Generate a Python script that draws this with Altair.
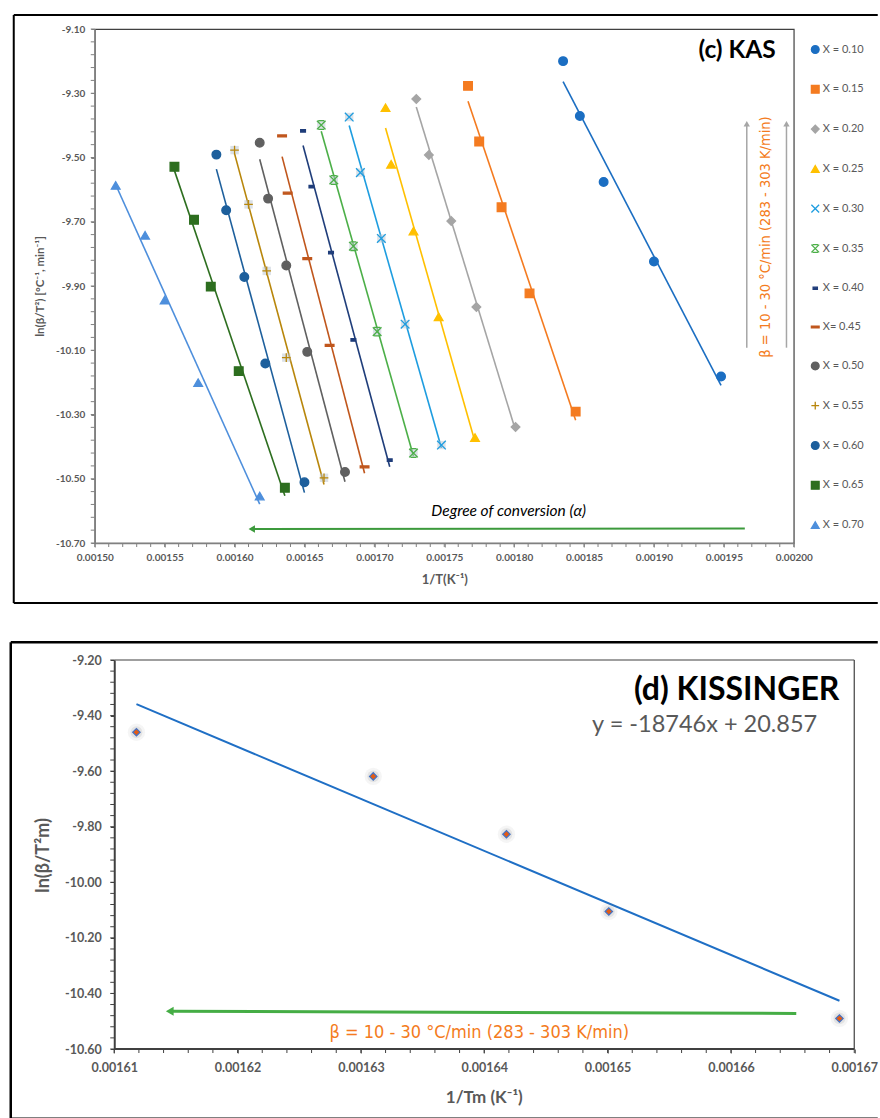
import altair as alt
import pandas as pd

# ---------------- (c) KAS data ----------------
series = ["X = 0.10", "X = 0.15", "X = 0.20", "X = 0.25", "X = 0.30", "X = 0.35",
          "X = 0.40", "X= 0.45", "X = 0.50", "X = 0.55", "X = 0.60", "X = 0.65", "X = 0.70"]
colors = ["#1b6ec2", "#f47b20", "#a5a5a5", "#ffc000", "#1e9de0", "#4caf48",
          "#1f3d7a", "#c0561c", "#606060", "#b8860b", "#1d5f9c", "#2d6e1f", "#4e8fdc"]
shapes = ["circle", "square", "diamond", "triangle-up",
          "M-1,-1L1,1M-1,1L1,-1",
          "M-1,-1L1,1M-1,1L1,-1M-0.7,-1H0.7M-0.7,1H0.7",
          "M-0.55,-0.28H0.55V0.28H-0.55Z",
          "M-1,-0.22H1V0.22H-1Z",
          "circle",
          "M-1,0H1M0,-1V1",
          "circle", "square", "triangle-up"]

x_010 = [0.001835, 0.001847, 0.001864, 0.001900, 0.001948]
y_010 = [-9.200, -9.371, -9.576, -9.824, -10.182]
x_015 = [0.001767, 0.001775, 0.001791, 0.001811, 0.001844]
y_015 = [-9.277, -9.450, -9.655, -9.923, -10.291]
x_020 = [0.001730, 0.001739, 0.001755, 0.001773, 0.001801]
y_020 = [-9.318, -9.492, -9.698, -9.965, -10.339]
x_025 = [0.001708, 0.001712, 0.001728, 0.001746, 0.001772]
y_025 = [-9.345, -9.521, -9.729, -9.996, -10.372]
x_030 = [0.001682, 0.001690, 0.001705, 0.001722, 0.001748]
y_030 = [-9.374, -9.547, -9.752, -10.019, -10.395]
x_035 = [0.001662, 0.001671, 0.001685, 0.001702, 0.001728]
y_035 = [-9.399, -9.570, -9.776, -10.042, -10.420]
x_040 = [0.001649, 0.001655, 0.001669, 0.001685, 0.001711]
y_040 = [-9.417, -9.591, -9.796, -10.068, -10.442]
x_045 = [0.001634, 0.001638, 0.001652, 0.001668, 0.001693]
y_045 = [-9.433, -9.611, -9.815, -10.085, -10.463]
x_050 = [0.001618, 0.001624, 0.001637, 0.001652, 0.001679]
y_050 = [-9.454, -9.628, -9.836, -10.105, -10.479]
x_055 = [0.001600, 0.001610, 0.001623, 0.001637, 0.001664]
y_055 = [-9.477, -9.646, -9.853, -10.123, -10.497]
x_060 = [0.001587, 0.001594, 0.001607, 0.001622, 0.001650]
y_060 = [-9.491, -9.664, -9.872, -10.141, -10.511]
x_065 = [0.001557, 0.001571, 0.001583, 0.001603, 0.001636]
y_065 = [-9.529, -9.694, -9.902, -10.165, -10.528]
x_070 = [0.001515, 0.001536, 0.001550, 0.001574, 0.001618]
y_070 = [-9.587, -9.742, -9.944, -10.201, -10.554]

c_xticks = [0.00150, 0.00155, 0.00160, 0.00165, 0.00170, 0.00175,
            0.00180, 0.00185, 0.00190, 0.00195, 0.00200]
c_yticks = [-9.10, -9.30, -9.50, -9.70, -9.90, -10.10, -10.30, -10.50, -10.70]

# ---------------- (d) Kissinger data ----------------
kis_x = [0.0016118, 0.0016310, 0.0016418, 0.0016501, 0.0016688]
kis_y = [-9.460, -9.619, -9.827, -10.105, -10.490]
d_xticks = [0.00161, 0.00162, 0.00163, 0.00164, 0.00165, 0.00166, 0.00167]
d_yticks = [-9.20, -9.40, -9.60, -9.80, -10.00, -10.20, -10.40, -10.60]

beta_text = "β = 10 - 30 °C/min (283 - 303 K/min)"
NARROW = "Liberation Sans Narrow, DejaVu Sans Condensed, Roboto, sans-serif"
GRAY = "#595959"

# minor tick positions (axis decoration only)
c_xminor = [round(0.0015 + i * 0.00001, 5) for i in range(51)]
c_yminor = [round(-9.10 - i * 0.04, 2) for i in range(41)]
d_xminor = [round(0.00161 + i * 0.000002, 6) for i in range(31)]
d_yminor = [round(-9.20 - i * 0.04, 2) for i in range(36)]

all_x = [x_010, x_015, x_020, x_025, x_030, x_035, x_040, x_045, x_050, x_055, x_060, x_065, x_070]
all_y = [y_010, y_015, y_020, y_025, y_030, y_035, y_040, y_045, y_050, y_055, y_060, y_065, y_070]
rows = []
for s, c, xs, ys in zip(series, colors, all_x, all_y):
    for a, b in zip(xs, ys):
        rows.append({"series": s, "col": c, "x": a, "y": b})
kas = pd.DataFrame(rows)
kis = pd.DataFrame({"x": kis_x, "y": kis_y})
dummy = pd.DataFrame({"a": [0]})

MINUS = "replace(format(datum.value, '.2f'), '\u2212', '-')"


def hrule(x1, x2, y, w, color="black"):
    return alt.Chart(dummy).mark_rule(color=color, strokeWidth=w).encode(
        x=alt.value(x1), x2=alt.value(x2), y=alt.value(y))


def vrule(x, y1, y2, w, color="black"):
    return alt.Chart(dummy).mark_rule(color=color, strokeWidth=w).encode(
        x=alt.value(x), y=alt.value(y1), y2=alt.value(y2))


# ================= chart (c) =================
CW, CH = 699, 514
c_xs = alt.Scale(domain=[0.0015, 0.0020], nice=False, zero=False)
c_ys = alt.Scale(domain=[-10.70, -9.10], nice=False, zero=False)
c_xaxis = alt.Axis(values=c_xticks, format=".5f", grid=False, labelFlush=False, labelOverlap=False,
                   labelFont="Lato", labelFontWeight="bold", labelFontSize=10, labelColor=GRAY,
                   labelPadding=5, tickSize=4, tickColor="#808080", domainColor="#808080",
                   domainWidth=1.5, title="1/T(K⁻¹)", titleFont="Lato", titleFontWeight="bold",
                   titleFontSize=13, titleColor=GRAY, titleY=36, titleBaseline="middle")
c_yaxis = alt.Axis(values=c_yticks, labelExpr=MINUS, grid=False, labelOverlap=False,
                   labelFont="Lato", labelFontWeight="bold", labelFontSize=10, labelColor=GRAY,
                   labelPadding=6, tickSize=4, tickColor="#808080", domainColor="#808080",
                   domainWidth=1.5, title="ln(β/T²) [°C⁻¹, min⁻¹]", titleFont="Lato",
                   titleFontWeight="bold", titleFontSize=11.5, titleColor=GRAY, titleAngle=270,
                   titleAlign="center", titleBaseline="middle", titleX=-54, titleY=257)


def cx():
    return alt.X("x:Q", scale=c_xs, axis=c_xaxis)


def cy():
    return alt.Y("y:Q", scale=c_ys, axis=c_yaxis)


c_frame = [hrule(-81, 783, -14, 2), hrule(-81, 783, 574, 2), vrule(-81, -14, 574, 2)]
c_minx = alt.Chart(pd.DataFrame({"x": c_xminor})).mark_rule(color="#808080").encode(
    x=cx(), y=alt.value(CH), y2=alt.value(CH + 4))
c_miny = alt.Chart(pd.DataFrame({"y": c_yminor})).mark_rule(color="#808080").encode(
    y=cy(), x=alt.value(-4), x2=alt.value(0))

c_lines = alt.Chart(kas).transform_regression("x", "y", groupby=["series", "col"]).mark_line(
    strokeWidth=1.6).encode(x=cx(), y=cy(), color=alt.Color("col:N", scale=None))

c_boxes = alt.Chart(kas).transform_filter(
    alt.FieldOneOfPredicate(field="series", oneOf=["X = 0.30", "X = 0.35", "X = 0.55"])
).mark_square(size=70, color="#b8c4d0", opacity=0.5).encode(x=cx(), y=cy())

leg = alt.Legend(title=None, orient="none", legendX=715, legendY=15, padding=0, rowPadding=26.8,
                 symbolSize=60, symbolStrokeWidth=1.3, labelFont="Lato", labelFontSize=11,
                 labelColor=GRAY, labelOffset=2)
c_pts = alt.Chart(kas).mark_point(size=75, strokeWidth=1.3, opacity=1).encode(
    x=cx(), y=cy(),
    fill=alt.Fill("series:N", scale=alt.Scale(domain=series, range=colors), legend=leg),
    stroke=alt.Stroke("series:N", scale=alt.Scale(domain=series, range=colors), legend=leg),
    shape=alt.Shape("series:N", scale=alt.Scale(domain=series, range=shapes), legend=leg))

g_arr = pd.DataFrame({"x": [0.0019664, 0.0019948], "y": [-9.400, -9.400],
                      "y2": [-10.092, -10.092], "yh": [-9.395, -9.395]})
c_garr = alt.Chart(g_arr).mark_rule(color="#a6a6a6", strokeWidth=1.5).encode(
    x=cx(), y=cy(), y2=alt.Y2("y2:Q"))
c_ghead = alt.Chart(g_arr).mark_point(shape="triangle-up", filled=True, color="#a6a6a6",
                                      size=40, opacity=1).encode(
    x=cx(), y=alt.Y("yh:Q", scale=c_ys, axis=c_yaxis))
c_beta = alt.Chart(pd.DataFrame({"x": [0.00198], "y": [-9.7475], "t": [beta_text]})).mark_text(
    angle=270, align="center", baseline="middle", font=NARROW, fontSize=14.5, color="#f47b20").encode(
    x=cx(), y=cy(), text="t:N")
gr_c = pd.DataFrame({"x": [0.001965], "y": [-10.655], "x2": [0.0016125], "y2": [-10.6565]})
c_grarr = alt.Chart(gr_c).mark_rule(color="#3c9a3c", strokeWidth=2).encode(
    x=cx(), y=cy(), x2=alt.X2("x2:Q"), y2=alt.Y2("y2:Q"))
c_grhead = alt.Chart(pd.DataFrame({"x": [0.0016123], "y": [-10.6563]})).mark_point(
    shape="triangle-left", filled=True, color="#3c9a3c", size=55, opacity=1).encode(x=cx(), y=cy())
c_deg = alt.Chart(pd.DataFrame({"x": [0.0017961], "y": [-10.6004],
                                "t": ["Degree of conversion (α)"]})).mark_text(
    align="center", baseline="middle", font="Lato", fontStyle="italic", fontSize=15.5,
    color="black").encode(x=cx(), y=cy(), text="t:N")
c_title = alt.Chart(pd.DataFrame({"x": [0.0019871], "y": [-9.1685], "t": ["(c) KAS"]})).mark_text(
    align="right", baseline="middle", font="Lato", fontWeight="bold", fontSize=24.5,
    color="black").encode(x=cx(), y=cy(), text="t:N")

chart_c = alt.layer(*c_frame, c_minx, c_miny, c_lines, c_boxes, c_pts, c_garr, c_ghead, c_beta,
                    c_grarr, c_grhead, c_deg, c_title).properties(
    width=CW, height=CH, view=alt.ViewBackground(stroke="#404040", strokeWidth=1.2))

# ================= chart (d) =================
# plot group starts 19.5 px left of the y axis so both panels share a left edge
DW, DH = 759.5, 389
d_xs = alt.Scale(domain=[0.00160842, 0.00167], nice=False, zero=False)
d_ys = alt.Scale(domain=[-10.60, -9.20], nice=False, zero=False)
d_xaxis = alt.Axis(values=d_xticks, format=".5f", grid=False, labelFlush=False, labelOverlap=False,
                   domain=False, labelFont="Lato", labelFontWeight="bold", labelFontSize=12.5,
                   labelColor=GRAY, labelPadding=8, tickSize=4, tickColor="#404040",
                   title="1/Tm (K⁻¹)", titleFont="Lato", titleFontWeight="bold",
                   titleFontSize=17, titleColor=GRAY, titleX=389, titleY=48,
                   titleAlign="center", titleBaseline="middle")
d_yaxis = alt.Axis(values=d_yticks, labelExpr=MINUS, grid=False, labelOverlap=False, offset=-19.5,
                   labelFont="Lato", labelFontWeight="bold", labelFontSize=12.5, labelColor=GRAY,
                   labelPadding=9, tickSize=4, tickColor="#404040", domainColor="#404040",
                   domainWidth=2, title="ln(β/T²m)", titleFont="Lato", titleFontWeight="bold",
                   titleFontSize=18, titleColor=GRAY, titleAngle=270, titleAlign="center",
                   titleBaseline="middle", titleX=-70.5, titleY=195)


def dx():
    return alt.X("x:Q", scale=d_xs, axis=d_xaxis)


def dy():
    return alt.Y("y:Q", scale=d_ys, axis=d_yaxis)


d_frame = [hrule(-84, 783, -17.7, 2.5), hrule(-84, 783, 458.8, 2.5),
           vrule(-84, -17.7, 458.8, 2.5)]
d_box = pd.DataFrame({"x": [0.00161, 0.00161, 0.00167], "x2": [0.00167, 0.00167, 0.00167],
                      "y": [-10.60, -9.20, -9.20], "y2": [-10.60, -9.20, -10.60],
                      "w": [2.0, 1.2, 1.2]})
d_border = alt.Chart(d_box).mark_rule(color="#404040").encode(
    x=dx(), y=dy(), x2=alt.X2("x2:Q"), y2=alt.Y2("y2:Q"),
    strokeWidth=alt.StrokeWidth("w:Q", scale=None))
d_minx = alt.Chart(pd.DataFrame({"x": d_xminor})).mark_rule(color="#404040").encode(
    x=dx(), y=alt.value(DH), y2=alt.value(DH + 4))
d_miny = alt.Chart(pd.DataFrame({"y": d_yminor})).mark_rule(color="#404040").encode(
    y=dy(), x=alt.value(15.5), x2=alt.value(19.5))
d_line = alt.Chart(kis).transform_regression("x", "y").mark_line(
    color="#1f6fc5", strokeWidth=2).encode(x=dx(), y=dy())
d_glow1 = alt.Chart(kis).mark_circle(size=300, color="#808080", opacity=0.08).encode(x=dx(), y=dy())
d_glow2 = alt.Chart(kis).mark_circle(size=140, color="#808080", opacity=0.15).encode(x=dx(), y=dy())
d_pts = alt.Chart(kis).mark_point(shape="diamond", filled=True, size=55, fill="#e35b14",
                                  stroke="#4472c4", strokeWidth=1.2, opacity=1).encode(x=dx(), y=dy())
d_title = alt.Chart(pd.DataFrame({"x": [0.0016688], "y": [-9.309], "t": ["(d) KISSINGER"]})).mark_text(
    align="right", baseline="middle", font="Lato", fontWeight="bold", fontSize=32,
    color="black").encode(x=dx(), y=dy(), text="t:N")
d_eq = alt.Chart(pd.DataFrame({"x": [0.0016670], "y": [-9.435], "t": ["y = -18746x + 20.857"]})).mark_text(
    align="right", baseline="middle", font="Lato", fontSize=23.5, color=GRAY).encode(
    x=dx(), y=dy(), text="t:N")
gr_d = pd.DataFrame({"x": [0.0016653], "y": [-10.472], "x2": [0.0016146], "y2": [-10.4641]})
d_grarr = alt.Chart(gr_d).mark_rule(color="#45ad45", strokeWidth=3).encode(
    x=dx(), y=dy(), x2=alt.X2("x2:Q"), y2=alt.Y2("y2:Q"))
d_grhead = alt.Chart(pd.DataFrame({"x": [0.0016145], "y": [-10.464]})).mark_point(
    shape="triangle-left", filled=True, color="#45ad45", size=80, opacity=1).encode(x=dx(), y=dy())
d_beta = alt.Chart(pd.DataFrame({"x": [0.0016396], "y": [-10.543], "t": [beta_text]})).mark_text(
    align="center", baseline="middle", font=NARROW, fontSize=18, color="#f47b20").encode(
    x=dx(), y=dy(), text="t:N")

chart_d = alt.layer(*d_frame, d_border, d_minx, d_miny, d_line, d_glow1, d_glow2, d_pts, d_title,
                    d_eq, d_grarr, d_grhead, d_beta).properties(
    width=DW, height=DH, view=alt.ViewBackground(stroke="transparent"))

chart = alt.vconcat(chart_c, chart_d, spacing=35).resolve_scale(
    fill="independent", stroke="independent", shape="independent"
).resolve_legend(
    fill="independent", stroke="independent", shape="independent"
).properties(
    padding={"left": 8.75, "top": 13, "right": 0, "bottom": 0}
).configure(background="white", font="Lato")

chart.save("out.html", embed_options={"renderer": "svg", "actions": False})
